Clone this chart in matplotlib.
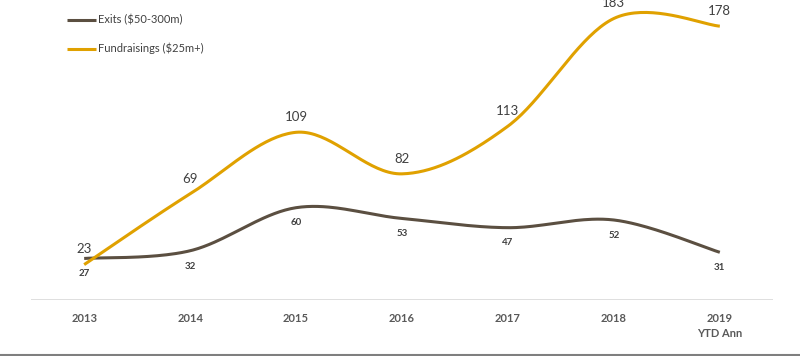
import numpy as np
import matplotlib
matplotlib.use('Agg')
import matplotlib.pyplot as plt
from matplotlib.lines import Line2D

years = ['2013', '2014', '2015', '2016', '2017', '2018', '2019\nYTD Ann']
exits = [27, 32, 60, 53, 47, 52, 31]
fundraisings = [23, 69, 109, 82, 113, 183, 178]

EXIT_COLOR = '#5b4f41'
FUND_COLOR = '#e0a100'
LABEL_COLOR = '#404040'
TICK_COLOR = '#595959'

plt.rcParams['font.family'] = ['Lato', 'DejaVu Sans']


def smooth(xs, ys, n=40):
    # Excel-style smoothed line: cubic Bezier through points (Catmull-Rom controls)
    pts = np.column_stack([xs, ys]).astype(float)
    p = np.vstack([pts[0], pts, pts[-1]])
    segs = []
    t = np.linspace(0, 1, n)[:, None]
    for i in range(1, len(p) - 2):
        p0, p1, p2, p3 = p[i - 1], p[i], p[i + 1], p[i + 2]
        c1 = p1 + (p2 - p0) / 6
        c2 = p2 - (p3 - p1) / 6
        seg = (1 - t) ** 3 * p1 + 3 * (1 - t) ** 2 * t * c1 + 3 * (1 - t) * t ** 2 * c2 + t ** 3 * p2
        segs.append(seg)
    out = np.vstack(segs)
    return out[:, 0], out[:, 1]


def main():
    fig = plt.figure(figsize=(8, 3.56), dpi=100)
    ax = fig.add_axes([0.039, 56 / 356, 0.927, 300 / 356])
    x = np.arange(len(years))

    sx, sy = smooth(x, exits)
    ax.plot(sx, sy, color=EXIT_COLOR, lw=2.2, solid_capstyle='butt', label='Exits ($50-300m)')
    fx, fy = smooth(x, fundraisings)
    ax.plot(fx, fy, color=FUND_COLOR, lw=2.2, solid_capstyle='butt', label='Fundraisings ($25m+)')

    for xi, v in zip(x, fundraisings):
        ax.annotate(str(v), (xi, v), xytext=(0, 11), textcoords='offset points',
                    ha='center', va='center', fontsize=9.5, color=LABEL_COLOR)
    for xi, v in zip(x, exits):
        ax.annotate(str(v), (xi, v), xytext=(0, -11), textcoords='offset points',
                    ha='center', va='center', fontsize=7, fontweight='bold', color=LABEL_COLOR)

    ax.set_xlim(-0.5, len(years) - 0.5)
    ax.set_ylim(0, 195)
    ax.axhline(0, color='#d9d9d9', lw=1.2)
    for s in ax.spines.values():
        s.set_visible(False)
    ax.set_yticks([])
    ax.set_xticks(x, labels=years)
    ax.tick_params(axis='x', length=0, pad=9, labelsize=8, labelcolor=TICK_COLOR)
    for lbl in ax.get_xticklabels():
        lbl.set_fontweight('bold')
        lbl.set_linespacing(1.5)

    leg = ax.legend(loc='upper left', bbox_to_anchor=(0.035, 0.985), frameon=False,
                    fontsize=8, labelspacing=1.55, handlelength=2.6, handletextpad=0.15)
    for txt in leg.get_texts():
        txt.set_color(LABEL_COLOR)

    fig.add_artist(Line2D([0, 1], [1.5 / 356, 1.5 / 356], color='#7f7f7f', lw=1.5,
                          transform=fig.transFigure))

    plt.savefig('out.png', dpi=100)


if __name__ == '__main__':
    main()
